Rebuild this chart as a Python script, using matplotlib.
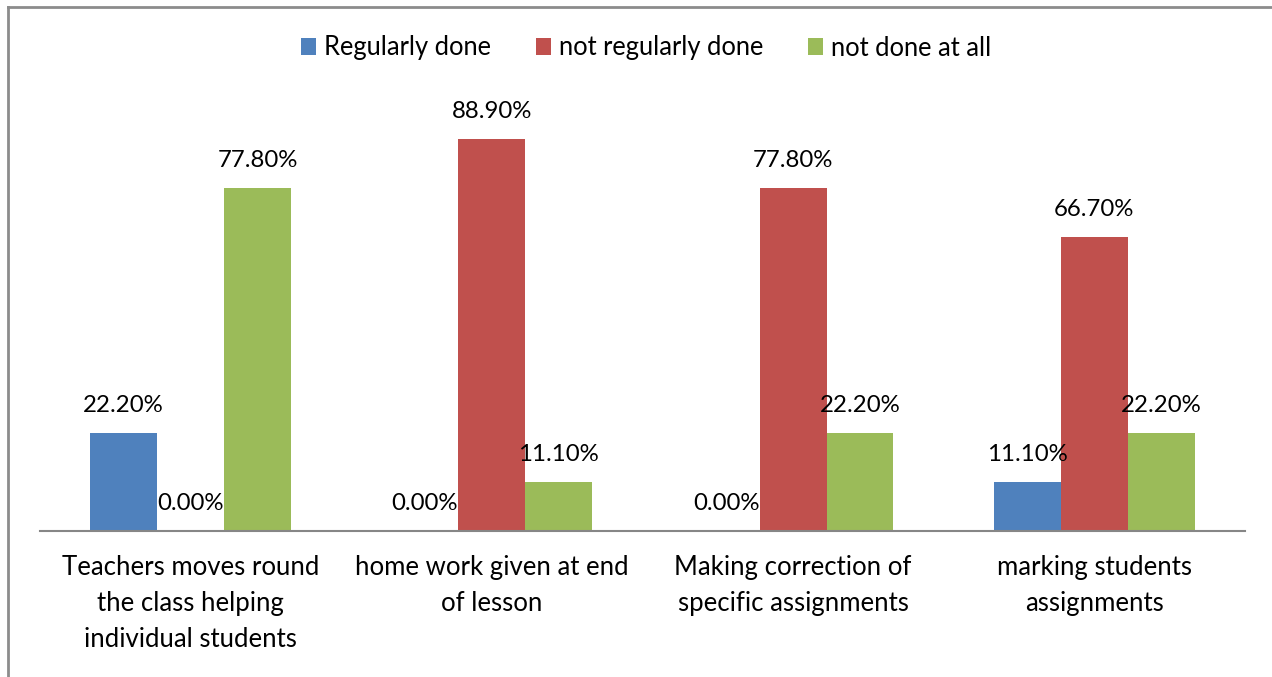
import matplotlib
matplotlib.use("Agg")
import matplotlib.pyplot as plt
from matplotlib.lines import Line2D
import numpy as np

categories = ["Teachers moves round\nthe class helping\nindividual students",
              "home work given at end\nof lesson",
              "Making correction of\nspecific assignments",
              "marking students\nassignments"]
series_names = ["Regularly done", "not regularly done", "not done at all"]
regularly = [22.2, 0.0, 0.0, 11.1]
not_regularly = [0.0, 88.9, 77.8, 66.7]
not_at_all = [77.8, 11.1, 22.2, 22.2]
colors = ["#4F81BD", "#C0504D", "#9BBB59"]

plt.rcParams['font.family'] = ['Lato', 'DejaVu Sans']

fig = plt.figure(figsize=(12.72, 6.77), dpi=100)
ax = fig.add_axes([40/1272, 1-531/677, 1205/1272, 441/677])

x = np.arange(len(categories))
w = 0.222
for i, (vals, name, c) in enumerate(zip([regularly, not_regularly, not_at_all], series_names, colors)):
    pos = x + (i-1)*w
    ax.bar(pos, vals, width=w, color=c, label=name, zorder=2)
    for p, v in zip(pos, vals):
        ax.annotate(f"{v:.2f}%", (p, v), xytext=(0, 12), textcoords="offset points",
                    ha="center", va="bottom", fontsize=17.3, color="black")

ax.set_xlim(-0.5, len(categories)-0.5)
ax.set_ylim(0, 100)
ax.set_yticks([])
ax.set_xticks(x)
ax.set_xticklabels(categories, fontsize=18.5, linespacing=1.55)
ax.tick_params(axis='x', length=0, pad=17)
for s in ["top", "right", "left"]:
    ax.spines[s].set_visible(False)
ax.spines["bottom"].set_color("#868686")
ax.spines["bottom"].set_linewidth(1.5)

leg = fig.legend(loc="center", bbox_to_anchor=(0.508, 1-48/677), ncol=3, frameon=False,
                 fontsize=18.4, handlelength=0.6, handleheight=0.6, columnspacing=1.75,
                 handletextpad=0.3)

fig.add_artist(Line2D([8/1272, 8/1272], [0, 1-7/677], transform=fig.transFigure, color="#8c8c8c", lw=2))
fig.add_artist(Line2D([8/1272, 1], [1-7/677, 1-7/677], transform=fig.transFigure, color="#8c8c8c", lw=2))

fig.savefig("out.png", dpi=100)
